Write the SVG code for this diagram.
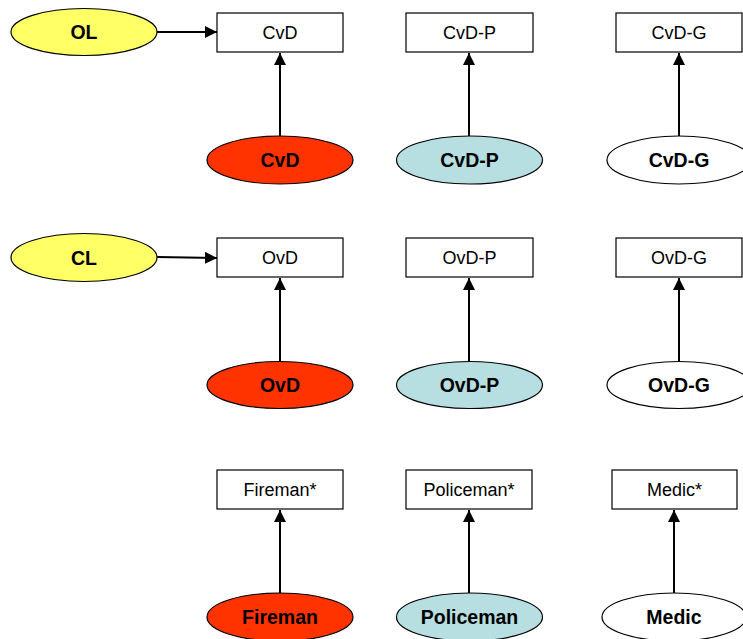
<svg xmlns="http://www.w3.org/2000/svg" width="743" height="639" viewBox="0 0 743 639">
  <style>
    .box { fill: #ffffff; stroke: #000000; stroke-width: 1.2; }
    .ell { stroke: #000000; stroke-width: 1.2; }
    .red { fill: #ff3300; }
    .blue { fill: #b7dee0; }
    .white { fill: #ffffff; }
    .yellow { fill: #ffff66; }
    .btxt { font-family: "Liberation Sans", Arial, sans-serif; font-size: 18px; fill: #000000; text-anchor: middle; }
    .etxt { font-family: "Liberation Sans", Arial, sans-serif; font-size: 19.5px; font-weight: bold; fill: #000000; text-anchor: middle; }
    .conn { stroke: #000000; stroke-width: 2; fill: none; marker-end: url(#arrow); }
  </style>
  <defs>
    <marker id="arrow" markerUnits="userSpaceOnUse" markerWidth="13" markerHeight="12" refX="12" refY="6" orient="auto">
      <path d="M0,0 L12,6 L0,12 z" fill="#000000"/>
    </marker>
  </defs>
  <rect width="743" height="639" fill="#ffffff"/>

  <!-- connectors -->
  <g id="connectors">
    <line class="conn" x1="157" y1="32" x2="217" y2="32"/>
    <line class="conn" x1="280" y1="136" x2="280" y2="53"/>
    <line class="conn" x1="469" y1="136" x2="469" y2="53"/>
    <line class="conn" x1="679" y1="136" x2="679" y2="53"/>

    <line class="conn" x1="157" y1="257" x2="217" y2="258"/>
    <line class="conn" x1="280" y1="361" x2="280" y2="278"/>
    <line class="conn" x1="469" y1="361" x2="469" y2="278"/>
    <line class="conn" x1="679" y1="361" x2="679" y2="278"/>

    <line class="conn" x1="280" y1="593" x2="280" y2="510"/>
    <line class="conn" x1="469" y1="593" x2="469" y2="510"/>
    <line class="conn" x1="674" y1="593" x2="674" y2="510"/>
  </g>

  <!-- row 1 -->
  <g id="OL"><ellipse class="ell yellow" cx="84" cy="32" rx="73" ry="23.5"/><text class="etxt" x="84" y="39">OL</text></g>
  <g id="CvD-box"><rect class="box" x="217" y="13" width="126" height="39"/><text class="btxt" x="280" y="39">CvD</text></g>
  <g id="CvD-P-box"><rect class="box" x="406" y="13" width="127" height="39"/><text class="btxt" x="469.5" y="39">CvD-P</text></g>
  <g id="CvD-G-box"><rect class="box" x="616" y="13" width="126" height="39"/><text class="btxt" x="679" y="39">CvD-G</text></g>
  <g id="CvD"><ellipse class="ell red" cx="280" cy="160" rx="73" ry="24"/><text class="etxt" x="280" y="167">CvD</text></g>
  <g id="CvD-P"><ellipse class="ell blue" cx="469.5" cy="160" rx="73" ry="24"/><text class="etxt" x="469.5" y="167">CvD-P</text></g>
  <g id="CvD-G"><ellipse class="ell white" cx="679" cy="160" rx="72" ry="24"/><text class="etxt" x="679" y="167">CvD-G</text></g>

  <!-- row 2 -->
  <g id="CL"><ellipse class="ell yellow" cx="84" cy="257.5" rx="73" ry="24"/><text class="etxt" x="84" y="264.5">CL</text></g>
  <g id="OvD-box"><rect class="box" x="217" y="238" width="126" height="39"/><text class="btxt" x="280" y="264">OvD</text></g>
  <g id="OvD-P-box"><rect class="box" x="406" y="238" width="127" height="39"/><text class="btxt" x="469.5" y="264">OvD-P</text></g>
  <g id="OvD-G-box"><rect class="box" x="616" y="238" width="126" height="39"/><text class="btxt" x="679" y="264">OvD-G</text></g>
  <g id="OvD"><ellipse class="ell red" cx="280" cy="385" rx="73" ry="23.5"/><text class="etxt" x="280" y="392">OvD</text></g>
  <g id="OvD-P"><ellipse class="ell blue" cx="469.5" cy="385" rx="73" ry="23.5"/><text class="etxt" x="469.5" y="392">OvD-P</text></g>
  <g id="OvD-G"><ellipse class="ell white" cx="679" cy="385" rx="72" ry="23.5"/><text class="etxt" x="679" y="392">OvD-G</text></g>

  <!-- row 3 -->
  <g id="Fireman-box"><rect class="box" x="217" y="470" width="126" height="39"/><text class="btxt" x="280" y="496">Fireman*</text></g>
  <g id="Policeman-box"><rect class="box" x="406" y="470" width="126" height="39"/><text class="btxt" x="469" y="496">Policeman*</text></g>
  <g id="Medic-box"><rect class="box" x="612" y="470" width="125" height="39"/><text class="btxt" x="674.5" y="496">Medic*</text></g>
  <g id="Fireman"><ellipse class="ell red" cx="280" cy="617" rx="73" ry="24"/><text class="etxt" x="280" y="624">Fireman</text></g>
  <g id="Policeman"><ellipse class="ell blue" cx="469.5" cy="617" rx="73" ry="24"/><text class="etxt" x="469.5" y="624">Policeman</text></g>
  <g id="Medic"><ellipse class="ell white" cx="674" cy="617" rx="72" ry="24"/><text class="etxt" x="674" y="624">Medic</text></g>
</svg>
